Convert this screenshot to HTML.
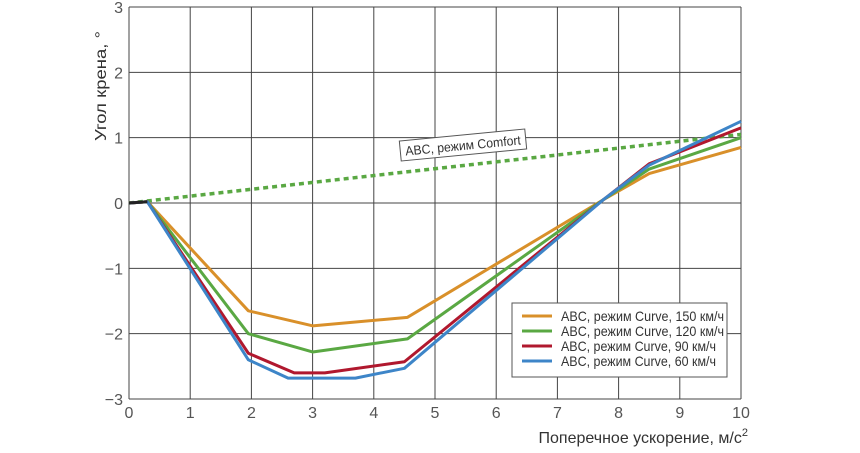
<!DOCTYPE html>
<html><head><meta charset="utf-8"><style>
body{margin:0;background:#fff;}
svg text{font-family:"Liberation Sans",sans-serif;fill:#333;}
</style></head><body>
<svg id="chart" width="860" height="448" viewBox="0 0 860 448" xmlns="http://www.w3.org/2000/svg">
<g id="grid"></g>
<g id="series"></g>
<g id="axes"></g>
<text transform="translate(106,86) rotate(-90)" font-size="16" text-anchor="middle" textLength="110" lengthAdjust="spacingAndGlyphs">Угол крена, °</text>
<text x="748" y="443" font-size="16" text-anchor="end">Поперечное ускорение, м/с<tspan dy="-7" font-size="11">2</tspan></text>
<g transform="translate(463,145) rotate(-5.5)">
<rect x="-63" y="-10" width="126" height="20" fill="#fff" stroke="#555" stroke-width="1"/>
<text x="0" y="5" font-size="13" text-anchor="middle" textLength="116" lengthAdjust="spacingAndGlyphs">ABC, режим Comfort</text>
</g>
<g>
<rect x="512" y="303" width="215" height="74" fill="#fff" stroke="#555" stroke-width="1"/>
<g id="legend-items"></g>
</g>
</svg>
<script>
const xTicks=[0,1,2,3,4,5,6,7,8,9,10];
const yTicks=[-3,-2,-1,0,1,2,3];
const x150=[0,0.3,1.95,3,4.55,7.75,8.5,10];
const y150=[0,0.02,-1.65,-1.88,-1.75,0.05,0.45,0.85];
const x120=[0,0.3,1.95,3,4.55,7.75,8.5,10];
const y120=[0,0.02,-2.0,-2.28,-2.08,0.05,0.52,1.0];
const x90=[0,0.3,1.95,2.7,3.2,4.5,7.75,8.5,10];
const y90=[0,0.02,-2.3,-2.6,-2.6,-2.43,0.05,0.6,1.15];
const x60=[0,0.3,1.95,2.6,3.7,4.5,7.75,8.5,10];
const y60=[0,0.02,-2.4,-2.68,-2.68,-2.53,0.05,0.58,1.25];
const xComfort=[0,10];
const yComfort=[0,1.05];
const seriesNames=["ABC, режим Curve, 150 км/ч","ABC, режим Curve, 120 км/ч","ABC, режим Curve, 90 км/ч","ABC, режим Curve, 60 км/ч"];
const colors=["#d9902a","#5aa843","#b0182e","#3d85c8"];
const X0=129,X1=741,Y0=399,Y1=7;
const sx=v=>X0+(v-0)/(10-0)*(X1-X0);
const sy=v=>Y0-(v+3)/6*(Y0-Y1);
const NS="http://www.w3.org/2000/svg";
function mk(tag,attrs,parent){const e=document.createElementNS(NS,tag);for(const k in attrs)e.setAttribute(k,attrs[k]);parent.appendChild(e);return e;}
const grid=document.getElementById('grid'),axes=document.getElementById('axes'),ser=document.getElementById('series');
xTicks.forEach(t=>{
 const l=mk('line',{x1:sx(t),x2:sx(t),y1:Y1,y2:Y0,stroke:'#444','stroke-width':1},grid);
 
 
 const tx=mk('text',{x:sx(t),y:418,'font-size':16,'text-anchor':'middle',style:'fill:#555'},axes);
 tx.textContent=t;
 
 
});
yTicks.forEach(t=>{
 const l=mk('line',{x1:X0,x2:X1,y1:sy(t),y2:sy(t),stroke:'#444','stroke-width':1},grid);
 
 
 const tx=mk('text',{x:123,y:sy(t)+6,'font-size':16,'text-anchor':'end',style:'fill:#555'},axes);
 tx.textContent=t<0?'\u2212'+(-t):t;
 
 
});
const cp=mk('polyline',{points:xComfort.map((x,i)=>sx(x)+','+sy(yComfort[i])).join(' '),fill:'none',stroke:'#5aa843','stroke-width':3.5,'stroke-dasharray':'5,4'},ser);


const data=[[x150,y150],[x120,y120],[x90,y90],[x60,y60]];
const names=['line-150','line-120','line-90','line-60'];
data.forEach((d,k)=>{
 const p=mk('polyline',{points:d[0].map((x,i)=>sx(x)+','+sy(d[1][i])).join(' '),fill:'none',stroke:colors[k],'stroke-width':3,'stroke-linejoin':'round'},ser);
 
 
});
const bl=mk('polyline',{points:[0,0.3].map((x,i)=>sx(x)+','+sy([0,0.02][i])).join(' '),fill:'none',stroke:'#222','stroke-width':3},ser);


const li=document.getElementById('legend-items');
const tl=[163,163,155,155];
seriesNames.forEach((n,k)=>{
 const y=316+k*15;
 const l=mk('line',{x1:522,x2:552,y1:y,y2:y,stroke:colors[k],'stroke-width':3},li);
 
 
 const t=mk('text',{x:561,y:y+5,'font-size':14,textLength:tl[k],lengthAdjust:'spacingAndGlyphs'},li);
 t.textContent=n;
 
 
});
</script>
</body></html>
